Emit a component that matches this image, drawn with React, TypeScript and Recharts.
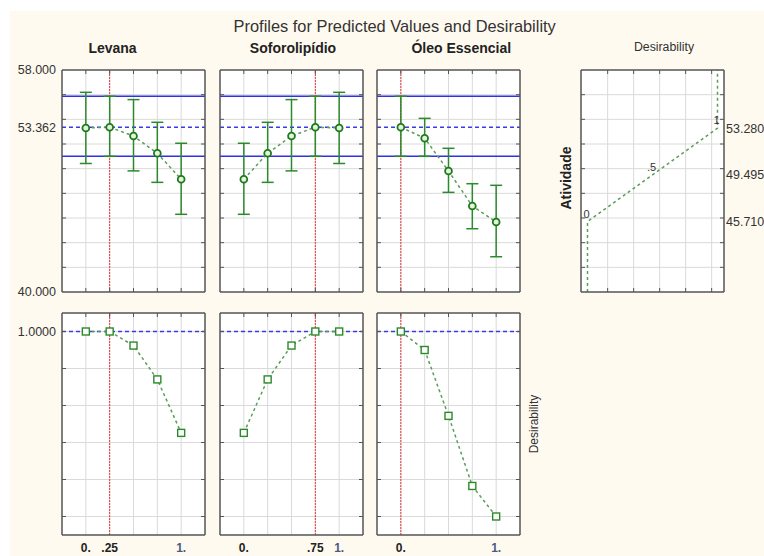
import React from 'react';
import {
  ComposedChart, Line, XAxis, YAxis, ReferenceLine, ReferenceArea, ErrorBar, LabelList,
} from 'recharts';

// níveis codificados dos fatores
const levels = [0, 0.25, 0.5, 0.75, 1];
const currentLevel = [0.25, 0.75, 0];

// valores previstos (Atividade) e limites do IC
const levanaPred = [53.3, 53.362, 52.65, 51.25, 49.14];
const levanaLow = [50.42, 51.0, 49.82, 48.89, 46.3];
const levanaHigh = [56.19, 55.87, 55.6, 53.76, 52.06];

const soforPred = [49.14, 51.25, 52.65, 53.362, 53.3];
const soforLow = [46.3, 48.89, 49.82, 51.0, 50.42];
const soforHigh = [52.06, 53.76, 55.6, 55.87, 56.19];

const oleoPred = [53.362, 52.47, 49.81, 46.97, 45.68];
const oleoLow = [51.0, 51.0, 48.08, 45.13, 42.86];
const oleoHigh = [55.87, 54.08, 51.65, 48.78, 48.65];

const predCurrent = 53.362;
const ciLow = 51.0;
const ciHigh = 55.87;

// desejabilidade por nível
const levanaDesir = [1, 1, 0.924, 0.741, 0.452];
const soforDesir = [0.452, 0.741, 0.924, 1, 1];
const oleoDesir = [1, 0.9, 0.544, 0.165, 0.0];

// função de desejabilidade
const fnDesir = [0, 0, 0.5, 1, 1];
const fnAtiv = [40, 45.71, 49.495, 53.28, 58];
const fnLabels = ['', '0', '.5', '1', ''];

const yLabelTicks = [40, 53.362, 58];
const yGrid = [42, 44, 46, 48, 50, 52, 54, 56];
const dGrid = [0, 0.2, 0.4, 0.6, 0.8, 1.0];
const fnXGrid = [0.155, 0.355, 0.555, 0.755, 0.955];
const rightLabelTicks = [45.71, 49.495, 53.28];
const bottomTicks = [[0, 0.25, 1], [0, 0.75, 1], [0, 1]];

const PW = 143;
const PH = 222;
const panelX = [62, 220, 377];
const fnX = 581;
const topY = 70;
const botY = 313;
const FONT = '"Liberation Sans", Arial, sans-serif';

const fmtLevel = (v: number) => (v === 0 ? '0.' : v === 1 ? '1.' : String(v).replace(/^0/, ''));

const profileData = (pred: number[], low: number[], high: number[]) =>
  levels.map((x, i) => ({ x, y: pred[i], err: [pred[i] - low[i], high[i] - pred[i]] }));
const desirData = (d: number[]) => levels.map((x, i) => ({ x, y: d[i] }));

const circleDot = (p: any) => (
  <circle key={p.index} cx={p.cx} cy={p.cy} r={3.4} stroke="#1b7a1b" strokeWidth={1.8} fill="#e6f2dc" />
);
const squareDot = (p: any) => (
  <rect key={p.index} x={p.cx - 3.5} y={p.cy - 3.5} width={7} height={7} stroke="#2a8a2a" strokeWidth={1.4} fill="#fff" />
);

const bottomTick = (p: any) => (
  <text x={p.x} y={p.y} dy="0.71em" textAnchor="middle" fontSize={12} fontWeight="bold"
    fill={p.payload.value === 1 ? '#4a5a80' : '#222'}>
    {fmtLevel(p.payload.value)}
  </text>
);

const fnLabel = (p: any) =>
  p.value ? (
    <text x={p.x - 1} y={p.y - 4} textAnchor="middle" fontSize={11} fill="#333">{p.value}</text>
  ) : null;

type PanelProps = {
  x: number; y: number; data: any[];
  xDomain: [number, number]; yDomain: [number, number];
  xGrid: number[]; yGrid: number[];
  leftTicks?: number[]; leftFmt?: (v: number) => string;
  rightTicks?: number[];
  xLabels?: number[];
  children?: React.ReactNode;
};

const axisLine = { stroke: '#555', strokeWidth: 1.5 };
const tickLine = { stroke: '#555' };
const noLabel = () => '';

function Panel(p: PanelProps) {
  const m = 8;
  const LW = p.leftTicks ? 60 : 0;
  const RW = p.rightTicks ? 50 : 0;
  const BH = p.xLabels ? 22 : 0;
  const width = PW + 2 * m + LW + RW;
  const height = PH + 2 * m + BH;
  return (
    <div style={{ position: 'absolute', left: p.x - m - LW, top: p.y - m, width, height }}>
      <ComposedChart width={width} height={height} data={p.data} margin={{ top: m, right: m, bottom: m, left: m }}>
        <ReferenceArea x1={p.xDomain[0]} x2={p.xDomain[1]} y1={p.yDomain[0]} y2={p.yDomain[1]}
          fill="#fff" fillOpacity={1} stroke="none" ifOverflow="hidden" />
        {p.yGrid.map((v) => <ReferenceLine key={'h' + v} y={v} stroke="#dadada" />)}
        {p.xGrid.map((v) => <ReferenceLine key={'v' + v} x={v} stroke="#dadada" />)}
        {p.children}
        {p.xLabels ? (
          <XAxis dataKey="x" type="number" domain={p.xDomain} allowDataOverflow ticks={p.xLabels}
            axisLine={axisLine} tickLine={false} tickSize={0} tickMargin={8} height={BH} tick={bottomTick} />
        ) : (
          <XAxis dataKey="x" type="number" domain={p.xDomain} allowDataOverflow ticks={p.xGrid}
            mirror axisLine={axisLine} tickLine={tickLine} tickSize={4} tickFormatter={noLabel} />
        )}
        <XAxis xAxisId="t" dataKey="x" orientation="top" type="number" domain={p.xDomain} allowDataOverflow
          ticks={p.xGrid} mirror axisLine={axisLine} tickLine={tickLine} tickSize={4} tickFormatter={noLabel} />
        <YAxis type="number" domain={p.yDomain} allowDataOverflow ticks={p.yGrid} mirror
          axisLine={axisLine} tickLine={tickLine} tickSize={4} tickFormatter={noLabel} />
        <YAxis yAxisId="r" orientation="right" type="number" domain={p.yDomain} allowDataOverflow ticks={p.yGrid}
          mirror axisLine={axisLine} tickLine={tickLine} tickSize={4} tickFormatter={noLabel} />
        {p.leftTicks && (
          <YAxis yAxisId="lab" type="number" domain={p.yDomain} allowDataOverflow ticks={p.leftTicks}
            interval={0} width={LW} axisLine={false} tickLine={false} tickSize={0} tickMargin={6}
            tickFormatter={p.leftFmt} tick={{ fontSize: 12.5, fill: '#333' }} />
        )}
        {p.rightTicks && (
          <YAxis yAxisId="lab2" orientation="right" type="number" domain={p.yDomain} allowDataOverflow
            ticks={p.rightTicks} interval={0} width={RW} axisLine={false} tickLine={false} tickSize={0} tickMargin={2}
            tickFormatter={(v: number) => v.toFixed(3)} tick={{ fontSize: 12.5, fill: '#333', textAnchor: 'start' }} />
        )}
      </ComposedChart>
    </div>
  );
}

const profiles = [
  profileData(levanaPred, levanaLow, levanaHigh),
  profileData(soforPred, soforLow, soforHigh),
  profileData(oleoPred, oleoLow, oleoHigh),
];
const desirs = [desirData(levanaDesir), desirData(soforDesir), desirData(oleoDesir)];
const fnData = fnDesir.map((d, i) => ({ x: d, y: fnAtiv[i], lab: fnLabels[i] }));

export default function App() {
  return (
    <div style={{ position: 'absolute', left: 0, top: 0, width: 764, height: 556, overflow: 'hidden', background: '#fff', fontFamily: FONT }}>
      <div style={{ position: 'absolute', left: 10, top: 11, right: 0, bottom: 0, background: '#fffaf0' }} />
      <svg width={764} height={556} style={{ position: 'absolute', left: 0, top: 0 }}>
        <text x={394.7} y={32} textAnchor="middle" fontSize={16.4} fill="#333">
          Profiles for Predicted Values and Desirability
        </text>
        <text x={112.5} y={53} textAnchor="middle" fontSize={14} fontWeight="bold" fill="#222">Levana</text>
        <text x={293} y={53} textAnchor="middle" fontSize={14} fontWeight="bold" fill="#222">Soforolipídio</text>
        <text x={461.3} y={53} textAnchor="middle" fontSize={14} fontWeight="bold" fill="#222">Óleo Essencial</text>
        <text x={664} y={51} textAnchor="middle" fontSize={12.3} fill="#333">Desirability</text>
        <text x={566} y={178} transform="rotate(-90 566 178)" textAnchor="middle" dominantBaseline="central"
          fontSize={14} fontWeight="bold" fill="#222">Atividade</text>
        <text x={534} y={424} transform="rotate(-90 534 424)" textAnchor="middle" dominantBaseline="central"
          fontSize={12} fill="#333">Desirability</text>
      </svg>

      {profiles.map((data, i) => (
        <Panel key={'p' + i} x={panelX[i]} y={topY} data={data} xDomain={[-0.25, 1.25]} yDomain={[40, 58]}
          xGrid={levels} yGrid={yGrid}
          leftTicks={i === 0 ? yLabelTicks : undefined} leftFmt={(v) => v.toFixed(3)}>
          <ReferenceLine y={ciHigh} stroke="#3030e6" strokeWidth={1.5} />
          <ReferenceLine y={ciLow} stroke="#3030e6" strokeWidth={1.5} />
          <ReferenceLine y={predCurrent} stroke="#3a3ae6" strokeWidth={1.5} strokeDasharray="4 3" />
          <ReferenceLine x={currentLevel[i]} stroke="#e8343a" strokeWidth={1} strokeDasharray="2 1" />
          <Line dataKey="y" type="linear" stroke="#5a9e5a" strokeWidth={1.5} strokeDasharray="3 3"
            dot={circleDot} isAnimationActive={false}>
            <ErrorBar dataKey="err" direction="y" width={6} stroke="#2b8a2b" strokeWidth={1.5} />
          </Line>
        </Panel>
      ))}

      {desirs.map((data, i) => (
        <Panel key={'d' + i} x={panelX[i]} y={botY} data={data} xDomain={[-0.25, 1.25]} yDomain={[-0.1, 1.1]}
          xGrid={levels} yGrid={dGrid} xLabels={bottomTicks[i]}
          leftTicks={i === 0 ? [1] : undefined} leftFmt={(v) => v.toFixed(4)}>
          <ReferenceLine y={1} stroke="#3a3ae6" strokeWidth={1.5} strokeDasharray="4 3" />
          <ReferenceLine x={currentLevel[i]} stroke="#e8343a" strokeWidth={1} strokeDasharray="2 1" />
          <Line dataKey="y" type="linear" stroke="#5a9e5a" strokeWidth={1.5} strokeDasharray="3 3"
            dot={squareDot} isAnimationActive={false} />
        </Panel>
      ))}

      <Panel x={fnX} y={topY} data={fnData} xDomain={[-0.05, 1.05]} yDomain={[40, 58]}
        xGrid={fnXGrid} yGrid={yGrid} rightTicks={rightLabelTicks}>
        <Line dataKey="y" type="linear" stroke="#5a9e5a" strokeWidth={1.5} strokeDasharray="3 3"
          dot={false} isAnimationActive={false}>
          <LabelList dataKey="lab" content={fnLabel} />
        </Line>
      </Panel>
    </div>
  );
}
